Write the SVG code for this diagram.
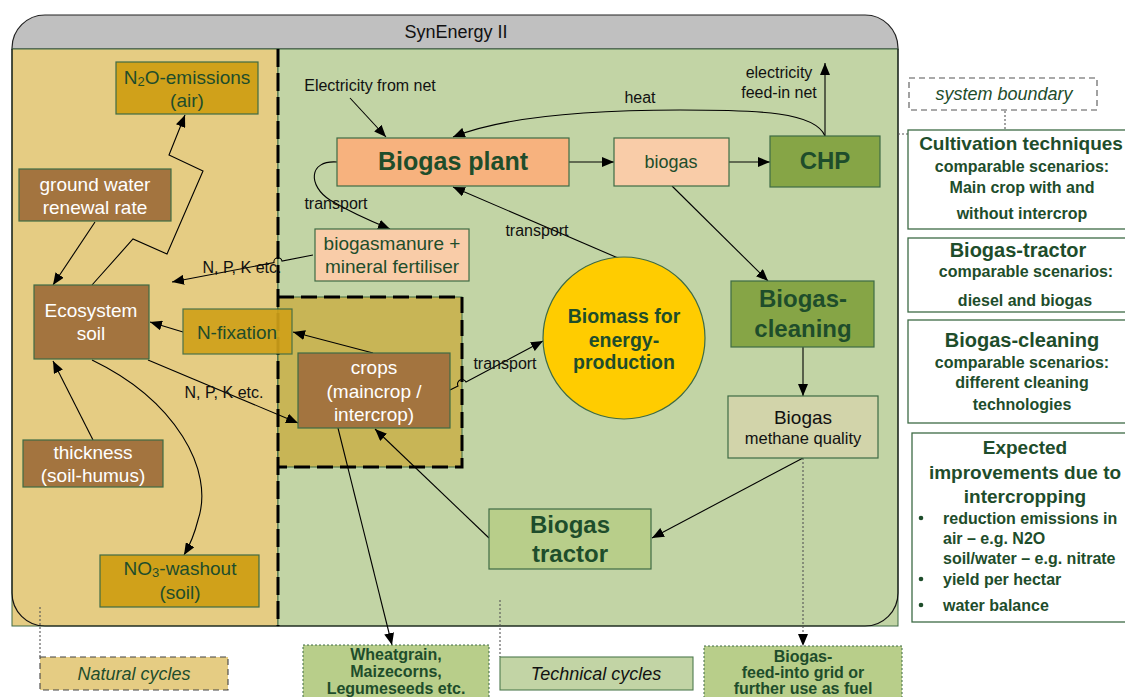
<svg xmlns="http://www.w3.org/2000/svg" width="1125" height="697" viewBox="0 0 1125 697">
<defs>
<marker id="ah" viewBox="0 0 12 10" refX="12" refY="5" markerWidth="12" markerHeight="10" orient="auto" markerUnits="userSpaceOnUse"><path d="M0,0 L12,5 L0,10 z" fill="#000"/></marker>
</defs>
<style>
text{font-family:"Liberation Sans",Arial,sans-serif;dominant-baseline:central;text-anchor:middle}
.dg{fill:#1E4D2B}
.wt{fill:#ffffff}
.bk{fill:#111111}
.b{font-weight:bold}
.it{font-style:italic}
.s19{font-size:19px}
.s16{font-size:16px}
.box{stroke:#3E6B45;stroke-width:1.2}
.gold{fill:#D0A11A}
.brown{fill:#A3743F}
.salmon{fill:#F7B27E}
.peach{fill:#F9CCA8}
.olive{fill:#86A546}
.lgreen{fill:#B8CE8A}
.panel{fill:#ffffff;stroke:#3E6B45;stroke-width:1.3}
.con{fill:none;stroke:#000;stroke-width:1.1}
.arr{marker-end:url(#ah)}
.dot{fill:none;stroke:#555;stroke-width:1.1;stroke-dasharray:2 2}
</style>

<g id="frame">
<path d="M12,49 L12,48 A33,33 0 0 1 45,15 L865,15 A33,33 0 0 1 898,48 L898,49 Z" fill="#C0C0C0" stroke="#222" stroke-width="1.2"/>
<text x="456" y="32" class="bk" style="font-size:18px">SynEnergy II</text>
<rect x="12" y="49" width="266" height="577" fill="#E5CC83" stroke="#3E6B45" stroke-width="1"/>
<rect x="278" y="49" width="620" height="577" fill="#C2D4A5" stroke="#3E6B45" stroke-width="1"/>
<path d="M12,49 L12,593 A33,33 0 0 0 45,626 L865,626 A33,33 0 0 0 898,593 L898,49" fill="none" stroke="#111" stroke-width="1.2"/>
</g>

<g id="crop-area">
<rect x="278" y="297" width="184" height="170" fill="#C8B556" stroke="#3E6B45" stroke-width="1"/>
<path d="M278,297 L462,297 L462,467 L278,467" fill="none" stroke="#000" stroke-width="3" stroke-dasharray="16 7"/>
</g>
<g id="divider">
<line x1="278" y1="49" x2="278" y2="626" stroke="#000" stroke-width="3" stroke-dasharray="18 6"/>
</g>

<g id="connectors">
<line class="con arr" x1="350" y1="98" x2="386" y2="137"/>
<path class="con arr" d="M825,136 C815,112 760,110 680,110 C580,110 500,118 453,137"/>
<line class="con arr" x1="825" y1="136" x2="825" y2="63"/>
<line class="con arr" x1="569" y1="162" x2="614" y2="162"/>
<line class="con arr" x1="729" y1="162" x2="770" y2="162"/>
<line class="con arr" x1="672" y1="186" x2="768" y2="281"/>
<line class="con arr" x1="803" y1="347" x2="803" y2="396"/>
<line class="con arr" x1="803" y1="458" x2="652" y2="538"/>
<line class="dot arr" x1="803" y1="458" x2="803" y2="646"/>
<line class="con arr" x1="489" y1="538" x2="375" y2="429"/>
<line class="con arr" x1="338" y1="428" x2="392" y2="645"/>
<path class="con arr" d="M450,390 L458,386 A4,4 0 0 1 466,382 L543,341"/>
<line class="con arr" x1="625" y1="261" x2="453" y2="187"/>
<path class="con arr" d="M337,162 C308,160 308,186 330,200 C350,212 368,220 390,229"/>
<path class="con arr" d="M313,255 L282,261 A4,4 0 0 0 274,262.5 L172,282"/>
<line class="con arr" x1="95" y1="222" x2="53" y2="285"/>
<polyline class="con arr" points="92,285 133,239 167,254 203,171 169,155 185,115"/>
<line class="con arr" x1="183" y1="332" x2="150" y2="322"/>
<line class="con arr" x1="373" y1="353" x2="293" y2="332"/>
<line class="con arr" x1="148" y1="360" x2="298" y2="423"/>
<line class="con arr" x1="93" y1="440" x2="53" y2="361"/>
<path class="con arr" d="M92,360 C175,400 215,470 198,520 Q193,540 184,555"/>
<path class="dot" d="M1005,111 L1005,134 L898,134"/>
<line class="dot" x1="40" y1="607" x2="40" y2="657"/>
<line class="dot" x1="500" y1="600" x2="500" y2="657"/>
<text x="370" y="85" class="bk s16">Electricity from net</text>
<text x="640" y="97" class="bk s16">heat</text>
<text x="779" y="72" class="bk s16">electricity</text>
<text x="779" y="92" class="bk s16">feed-in net</text>
<text x="336" y="203" class="bk s16">transport</text>
<text x="537" y="230" class="bk s16">transport</text>
<text x="505" y="363" class="bk s16">transport</text>
<text x="242" y="267" class="bk s16">N, P, K etc.</text>
<text x="224" y="392" class="bk s16">N, P, K etc.</text>
</g>

<g id="n2o">
<rect x="116" y="62" width="142" height="52" class="box gold"/>
<text x="187" y="77" class="dg s19">N<tspan dy="4" style="font-size:13px">2</tspan><tspan dy="-4">O-emissions</tspan></text>
<text x="187" y="100" class="dg s19">(air)</text>
</g>
<g id="groundwater">
<rect x="19" y="169" width="152" height="52" class="box brown"/>
<text x="95" y="184" class="wt s19">ground water</text>
<text x="95" y="207" class="wt s19">renewal rate</text>
</g>
<g id="ecosoil">
<rect x="34" y="285" width="115" height="74" class="box brown"/>
<text x="91" y="310" class="wt s19">Ecosystem</text>
<text x="91" y="333" class="wt s19">soil</text>
</g>
<g id="nfix">
<rect x="183" y="309" width="109" height="45" class="box gold" opacity="0.92"/>
<text x="237" y="332" class="dg s19">N-fixation</text>
</g>
<g id="thickness">
<rect x="23" y="440" width="140" height="47" class="box brown"/>
<text x="93" y="452" class="wt s19">thickness</text>
<text x="93" y="475" class="wt s19">(soil-humus)</text>
</g>
<g id="no3">
<rect x="100" y="555" width="159" height="52" class="box gold"/>
<text x="180" y="568" class="dg s19">NO<tspan dy="4" style="font-size:13px">3</tspan><tspan dy="-4">-washout</tspan></text>
<text x="180" y="592" class="dg s19">(soil)</text>
</g>
<g id="crops">
<rect x="298" y="353" width="152" height="75" class="box brown"/>
<text x="374" y="367" class="wt s19">crops</text>
<text x="374" y="391" class="wt s19">(maincrop /</text>
<text x="374" y="414" class="wt s19">intercrop)</text>
</g>
<g id="biomass">
<circle cx="624" cy="338" r="81" fill="#FFCC00" stroke="#3E6B45" stroke-width="1.2"/>
<text x="624" y="316" class="dg b" style="font-size:19.5px">Biomass for</text>
<text x="624" y="340" class="dg b" style="font-size:19.5px">energy-</text>
<text x="624" y="362" class="dg b" style="font-size:19.5px">production</text>
</g>
<g id="tractor">
<rect x="489" y="509" width="162" height="60" class="box lgreen"/>
<text x="570" y="524" class="dg b" style="font-size:24px">Biogas</text>
<text x="570" y="553" class="dg b" style="font-size:24px">tractor</text>
</g>
<g id="biogasplant">
<rect x="337" y="138" width="232" height="48" class="box salmon"/>
<text x="453" y="161" class="dg b" style="font-size:25px">Biogas plant</text>
</g>
<g id="biogas">
<rect x="614" y="138" width="115" height="48" class="box peach"/>
<text x="671" y="162" class="dg" style="font-size:18px">biogas</text>
</g>
<g id="chp">
<rect x="770" y="136" width="110" height="51" class="box olive"/>
<text x="825" y="160" class="dg b" style="font-size:24px">CHP</text>
</g>
<g id="manure">
<rect x="315" y="229" width="154" height="52" class="box peach"/>
<text x="392" y="243" class="dg s19">biogasmanure +</text>
<text x="392" y="266" class="dg s19">mineral fertiliser</text>
</g>
<g id="cleaning">
<rect x="731" y="281" width="143" height="66" class="box olive"/>
<text x="803" y="298" class="dg b" style="font-size:24px">Biogas-</text>
<text x="803" y="328" class="dg b" style="font-size:24px">cleaning</text>
</g>
<g id="methane">
<rect x="728" y="396" width="150" height="62" fill="#D2D4AA" stroke="#3E6B45" stroke-width="1.2"/>
<text x="803" y="417" class="bk s19">Biogas</text>
<text x="803" y="438" class="bk" style="font-size:16.5px">methane quality</text>
</g>

<g id="sysboundary">
<rect x="909" y="78" width="188" height="32" fill="#fff" stroke="#555" stroke-width="1.1" stroke-dasharray="6 4"/>
<text x="1004" y="94" class="dg it" style="font-size:18px">system boundary</text>
</g>
<g id="panel-cultivation">
<rect x="908" y="130" width="230" height="99" class="panel"/>
<text x="1021" y="143" class="dg b s19">Cultivation techniques</text>
<text x="1022" y="166" class="dg b" style="font-size:16px">comparable scenarios:</text>
<text x="1022" y="187" class="dg b" style="font-size:16px">Main crop with and</text>
<text x="1022" y="213" class="dg b" style="font-size:16px">without intercrop</text>
</g>
<g id="panel-tractor">
<rect x="908" y="238" width="230" height="74" class="panel"/>
<text x="1018" y="250" class="dg b" style="font-size:20px">Biogas-tractor</text>
<text x="1026" y="271" class="dg b" style="font-size:16px">comparable scenarios:</text>
<text x="1025" y="300" class="dg b" style="font-size:16px">diesel and biogas</text>
</g>
<g id="panel-cleaning">
<rect x="908" y="320" width="230" height="103" class="panel"/>
<text x="1022" y="340" class="dg b" style="font-size:20px">Biogas-cleaning</text>
<text x="1022" y="362" class="dg b" style="font-size:16px">comparable scenarios:</text>
<text x="1022" y="382" class="dg b" style="font-size:16px">different cleaning</text>
<text x="1022" y="404" class="dg b" style="font-size:16px">technologies</text>
</g>
<g id="panel-expected">
<rect x="912" y="433" width="226" height="189" class="panel"/>
<text x="1025" y="447" class="dg b s19">Expected</text>
<text x="1025" y="472" class="dg b s19">improvements due to</text>
<text x="1025" y="496" class="dg b s19">intercropping</text>
<g style="font-size:16px" class="dg b">
<circle cx="921" cy="518" r="2.3" fill="#1E4D2B"/>
<circle cx="921" cy="579" r="2.3" fill="#1E4D2B"/>
<circle cx="921" cy="605" r="2.3" fill="#1E4D2B"/>
<text x="943" y="518" style="text-anchor:start">reduction emissions in</text>
<text x="943" y="538" style="text-anchor:start">air – e.g. N2O</text>
<text x="943" y="558" style="text-anchor:start">soil/water – e.g. nitrate</text>
<text x="943" y="579" style="text-anchor:start">yield per hectar</text>
<text x="943" y="605" style="text-anchor:start">water balance</text>
</g>
</g>

<g id="natural">
<rect x="40" y="657" width="188" height="33" fill="#E5CC83" stroke="#444" stroke-width="1.1" stroke-dasharray="6 4"/>
<text x="134" y="674" class="dg it" style="font-size:18px">Natural cycles</text>
</g>
<g id="wheat">
<rect x="303" y="645" width="186" height="60" fill="#B8CE8A" stroke="#3E6B45" stroke-width="1" stroke-dasharray="2 2"/>
<text x="396" y="654" class="dg b" style="font-size:16px">Wheatgrain,</text>
<text x="396" y="671" class="dg b" style="font-size:16px">Maizecorns,</text>
<text x="396" y="688" class="dg b" style="font-size:16px">Legumeseeds etc.</text>
</g>
<g id="technical">
<rect x="500" y="657" width="193" height="33" fill="#C2D4A5" stroke="#4F7A4F" stroke-width="1.1"/>
<text x="596" y="674" class="bk it" style="font-size:18px">Technical cycles</text>
</g>
<g id="feed">
<rect x="704" y="646" width="198" height="60" fill="#B8CE8A" stroke="#3E6B45" stroke-width="1" stroke-dasharray="2 2"/>
<text x="803" y="656" class="dg b" style="font-size:16px">Biogas-</text>
<text x="803" y="672" class="dg b" style="font-size:16px">feed-into grid or</text>
<text x="803" y="688" class="dg b" style="font-size:16px">further use as fuel</text>
</g>
</svg>
